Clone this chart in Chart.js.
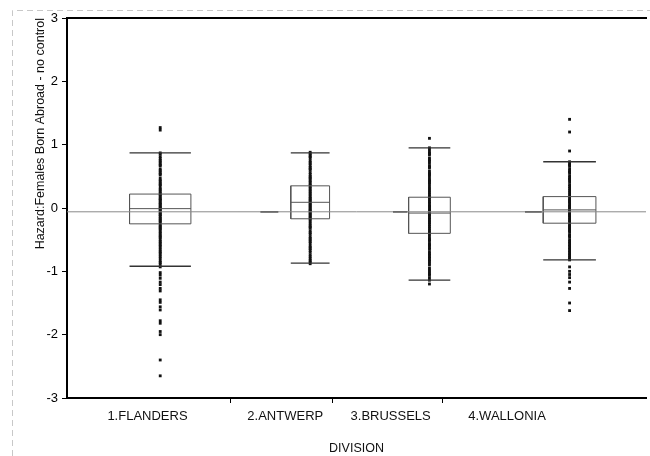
<!DOCTYPE html>
<html>
<head>
<meta charset="utf-8">
<script src="https://cdn.jsdelivr.net/npm/chart.js@4.4.1/dist/chart.umd.min.js"></script>
<style>
  html, body { margin: 0; padding: 0; background: #fff; }
  #wrap { width: 650px; height: 456px; position: relative; }
</style>
</head>
<body>
<div id="wrap"><canvas id="chart"></canvas></div>
<script>
// Division names, label positions and group separators (x in plot units 0..100)
const divisions = ['1.FLANDERS', '2.ANTWERP', '3.BRUSSELS', '4.WALLONIA'];
const labelPos = [13.9, 37.7, 55.9, 76.0];
const separators = [28.3, 45.8, 64.8];

// Box geometry per division
const boxCenter = [16.1, 42.0, 62.6, 86.8];
const boxHalfWidth = [5.3, 3.35, 3.6, 4.55];

// Summary statistics
const q1 = [-0.25, -0.17, -0.40, -0.24];
const median = [-0.01, 0.09, -0.08, -0.03];
const q3 = [0.22, 0.35, 0.17, 0.18];
const whiskerLow = [-0.92, -0.87, -1.14, -0.82];
const whiskerHigh = [0.87, 0.87, 0.95, 0.73];
const grandMean = -0.06;
const meanMarkFrom = [null, 33.4, 56.3, 79.1];
const meanMarkTo = [null, 36.5, 58.8, 82.0];

// Observations per division
const flanders = [1.27, 1.23, 0.87, 0.85, 0.81, 0.78, 0.75, 0.73, 0.7, 0.68, 0.66, 0.61, 0.59, 0.56, 0.54, 0.52, 0.47, 0.44, 0.42, 0.39,
  0.37, 0.35, 0.31, 0.29, 0.26, 0.24, 0.21, 0.2, 0.17, 0.15, 0.13, 0.12, 0.09, 0.07, 0.06, 0.03, 0.02, 0.0, -0.02, -0.03,
  -0.06, -0.07, -0.1, -0.11, -0.13, -0.16, -0.17, -0.2, -0.21, -0.24, -0.27, -0.29, -0.31, -0.33, -0.35, -0.38, -0.4, -0.43,
  -0.45, -0.47, -0.5, -0.53, -0.55, -0.58, -0.6, -0.63, -0.66, -0.69, -0.71, -0.74, -0.77, -0.8, -0.84, -0.86, -0.89, -0.93,
  -1.02, -1.06, -1.11, -1.17, -1.21, -1.27, -1.31, -1.45, -1.49, -1.56, -1.61, -1.78, -1.82, -1.95, -2.0, -2.4, -2.65];
const antwerp = [0.88, 0.86, 0.83, 0.81, 0.79, 0.75, 0.72, 0.7, 0.67, 0.64, 0.62, 0.6, 0.56, 0.53, 0.5, 0.48, 0.46, 0.43, 0.41, 0.38,
  0.36, 0.33, 0.31, 0.28, 0.26, 0.23, 0.21, 0.18, 0.16, 0.14, 0.12, 0.1, 0.08, 0.06, 0.04, 0.02, 0.0, -0.02, -0.04, -0.05,
  -0.07, -0.09, -0.11, -0.13, -0.15, -0.17, -0.19, -0.22, -0.25, -0.28, -0.3, -0.32, -0.36, -0.39, -0.41, -0.45, -0.48, -0.5,
  -0.53, -0.55, -0.59, -0.62, -0.64, -0.67, -0.7, -0.74, -0.77, -0.8, -0.83, -0.85, -0.88];
const brussels = [1.1, 0.95, 0.92, 0.88, 0.86, 0.84, 0.79, 0.76, 0.74, 0.71, 0.67, 0.65, 0.63, 0.58, 0.55, 0.53, 0.51, 0.47, 0.44, 0.42,
  0.4, 0.37, 0.33, 0.3, 0.27, 0.24, 0.21, 0.18, 0.16, 0.13, 0.1, 0.08, 0.05, 0.03, 0.01, -0.01, -0.03, -0.05, -0.07, -0.09,
  -0.11, -0.13, -0.16, -0.18, -0.21, -0.23, -0.26, -0.29, -0.32, -0.35, -0.38, -0.41, -0.44, -0.48, -0.5, -0.52, -0.56,
  -0.58, -0.6, -0.63, -0.65, -0.69, -0.72, -0.74, -0.77, -0.79, -0.82, -0.84, -0.87, -0.9, -0.95, -0.98, -1.01, -1.04,
  -1.06, -1.1, -1.14, -1.2];
const wallonia = [1.4, 1.2, 0.9, 0.73, 0.7, 0.68, 0.66, 0.62, 0.59, 0.57, 0.55, 0.51, 0.48, 0.46, 0.44, 0.41, 0.37, 0.34, 0.31, 0.28,
  0.25, 0.22, 0.19, 0.17, 0.14, 0.12, 0.1, 0.08, 0.05, 0.03, 0.01, -0.01, -0.03, -0.05, -0.07, -0.09, -0.11, -0.13, -0.15,
  -0.18, -0.2, -0.23, -0.26, -0.28, -0.3, -0.32, -0.34, -0.36, -0.38, -0.42, -0.44, -0.46, -0.5, -0.53, -0.55, -0.58, -0.6,
  -0.63, -0.65, -0.68, -0.7, -0.73, -0.75, -0.78, -0.8, -0.82, -0.93, -1.0, -1.05, -1.1, -1.17, -1.27, -1.5, -1.62];
const groups = [flanders, antwerp, brussels, wallonia];

const xMin = 0, xMax = 100;
const FONT = 'Liberation Sans, Arial, sans-serif';

function seg(x0, x1, y0, y1) {
  return [{ x: x0, y: y0 }, { x: x1, y: y1 }];
}

const datasets = [];

// grand mean reference line
datasets.push({
  data: seg(xMin, xMax, grandMean, grandMean),
  showLine: true, borderColor: '#8a8a8a', borderWidth: 1, pointRadius: 0
});

divisions.forEach((d, i) => {
  const l = boxCenter[i] - boxHalfWidth[i];
  const r = boxCenter[i] + boxHalfWidth[i];
  // box outline
  datasets.push({
    data: [{ x: l, y: q1[i] }, { x: r, y: q1[i] }, { x: r, y: q3[i] }, { x: l, y: q3[i] }, { x: l, y: q1[i] }],
    showLine: true, borderColor: '#555', borderWidth: 1, pointRadius: 0
  });
  // median
  datasets.push({
    data: seg(l, r, median[i], median[i]),
    showLine: true, borderColor: '#555', borderWidth: 1, pointRadius: 0
  });
  // whisker caps
  datasets.push({
    data: seg(l, r, whiskerHigh[i], whiskerHigh[i]),
    showLine: true, borderColor: '#333', borderWidth: 1.3, pointRadius: 0
  });
  datasets.push({
    data: seg(l, r, whiskerLow[i], whiskerLow[i]),
    showLine: true, borderColor: '#333', borderWidth: 1.3, pointRadius: 0
  });
  // group mean mark
  if (meanMarkFrom[i] !== null) {
    datasets.push({
      data: seg(meanMarkFrom[i], meanMarkTo[i], grandMean, grandMean),
      showLine: true, borderColor: '#111', borderWidth: 1.5, pointRadius: 0
    });
  }
  // observations
  datasets.push({
    data: groups[i].map(v => ({ x: boxCenter[i], y: v })),
    showLine: false, pointStyle: 'rect', pointRadius: 2,
    backgroundColor: '#111', borderColor: '#111', borderWidth: 0
  });
});

// faint scan frame around the figure
const scanFrame = {
  id: 'scanFrame',
  beforeDraw(chart) {
    const c = chart.ctx;
    c.save();
    c.strokeStyle = '#c8c8c8';
    c.lineWidth = 1;
    c.setLineDash([6, 4]);
    c.beginPath();
    c.moveTo(12.5, 456);
    c.lineTo(12.5, 10.5);
    c.lineTo(650, 10.5);
    c.stroke();
    c.restore();
  }
};

new Chart(document.getElementById('chart'), {
  type: 'scatter',
  data: { datasets },
  options: {
    responsive: true,
    maintainAspectRatio: false,
    animation: false,
    layout: { padding: { top: 18, right: 0, left: 0, bottom: 0 } },
    plugins: { legend: { display: false }, tooltip: { enabled: false } },
    scales: {
      x: {
        type: 'linear', min: xMin, max: xMax,
        afterBuildTicks: s => { s.ticks = separators.concat(labelPos).map(v => ({ value: v })); },
        afterFit: s => { s.height = 58; },
        grid: {
          drawOnChartArea: false, drawTicks: true, tickLength: 5,
          color: ctx => (ctx.tick && separators.includes(ctx.tick.value)) ? '#000' : 'rgba(0,0,0,0)'
        },
        border: { display: true, color: '#000', width: 2 },
        ticks: {
          autoSkip: false, maxRotation: 0, padding: 6, color: '#111',
          font: { family: FONT, size: 13 },
          callback: v => { const k = labelPos.indexOf(v); return k >= 0 ? divisions[k] : ''; }
        },
        title: { display: true, text: 'DIVISION', color: '#111', font: { family: FONT, size: 12.5 }, padding: { top: 0, bottom: 0 } }
      },
      xt: {
        type: 'linear', position: 'top', min: xMin, max: xMax,
        afterFit: s => { s.height = 0; },
        grid: { display: false },
        border: { display: true, color: '#000', width: 2 },
        ticks: { display: false }
      },
      y: {
        min: -3, max: 3,
        afterFit: s => { s.width = 67; },
        ticks: { stepSize: 1, color: '#000', padding: 4, font: { family: FONT, size: 13 } },
        grid: { drawOnChartArea: false, drawTicks: true, tickLength: 5, color: '#000' },
        border: { display: true, color: '#000', width: 2 },
        title: {
          display: true, align: 'end', text: 'Hazard:Females Born Abroad - no control',
          color: '#111', font: { family: FONT, size: 12.5 }, padding: { top: 33, bottom: 0 }
        }
      }
    }
  },
  plugins: [scanFrame]
});
</script>
</body>
</html>
